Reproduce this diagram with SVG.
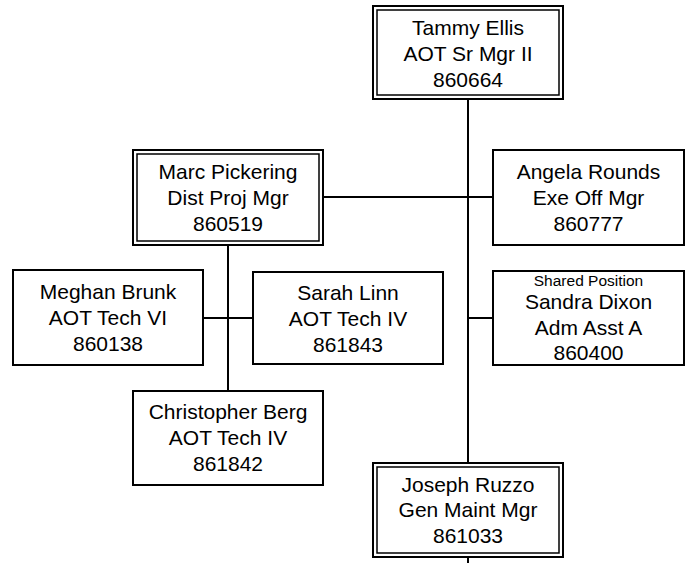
<svg xmlns="http://www.w3.org/2000/svg" width="687" height="563" viewBox="0 0 687 563">
<style>
.box{fill:#fff;stroke:#000;stroke-width:2}
.inner{fill:none;stroke:#000;stroke-width:1.5}
.t{font-family:"Liberation Sans",Arial,sans-serif;font-size:21px;fill:#000;text-anchor:middle}
.s{font-family:"Liberation Sans",Arial,sans-serif;font-size:15.5px;fill:#000;text-anchor:middle}
.c{stroke:#000;stroke-width:2;fill:none}
</style>
<rect width="687" height="563" fill="#fff"/>
<g id="connectors">
<line class="c" x1="468" y1="100" x2="468" y2="462"/>
<line class="c" x1="468" y1="558" x2="468" y2="563"/>
<line class="c" x1="324" y1="197" x2="492" y2="197"/>
<line class="c" x1="468" y1="318" x2="492" y2="318"/>
<line class="c" x1="228" y1="246" x2="228" y2="390"/>
<line class="c" x1="204" y1="318" x2="252" y2="318"/>
</g>
<g id="tammy">
<rect class="box" x="373" y="6" width="190" height="93"/>
<rect class="inner" x="377" y="10" width="182" height="85"/>
<text class="t" x="468" y="35">Tammy Ellis</text>
<text class="t" x="468" y="61">AOT Sr Mgr II</text>
<text class="t" x="468" y="87">860664</text>
</g>
<g id="marc">
<rect class="box" x="133" y="150" width="190" height="95"/>
<rect class="inner" x="137" y="154" width="182" height="87"/>
<text class="t" x="228" y="178.5">Marc Pickering</text>
<text class="t" x="228" y="204.5">Dist Proj Mgr</text>
<text class="t" x="228" y="230.5">860519</text>
</g>
<g id="angela">
<rect class="box" x="493" y="150" width="191" height="95"/>
<text class="t" x="588.5" y="178.5">Angela Rounds</text>
<text class="t" x="588.5" y="204.5">Exe Off Mgr</text>
<text class="t" x="588.5" y="230.5">860777</text>
</g>
<g id="meghan">
<rect class="box" x="13" y="270" width="190" height="95"/>
<text class="t" x="108" y="298.5">Meghan Brunk</text>
<text class="t" x="108" y="324.5">AOT Tech VI</text>
<text class="t" x="108" y="350.5">860138</text>
</g>
<g id="sarah">
<rect class="box" x="253" y="272" width="190" height="92"/>
<text class="t" x="348" y="300">Sarah Linn</text>
<text class="t" x="348" y="326">AOT Tech IV</text>
<text class="t" x="348" y="352">861843</text>
</g>
<g id="sandra">
<rect class="box" x="493" y="271" width="191" height="94"/>
<text class="s" x="588.5" y="285.5">Shared Position</text>
<text class="t" x="588.5" y="309">Sandra Dixon</text>
<text class="t" x="588.5" y="334.5">Adm Asst A</text>
<text class="t" x="588.5" y="360">860400</text>
</g>
<g id="christopher">
<rect class="box" x="133" y="391" width="190" height="94"/>
<text class="t" x="228" y="419">Christopher Berg</text>
<text class="t" x="228" y="445">AOT Tech IV</text>
<text class="t" x="228" y="471">861842</text>
</g>
<g id="joseph">
<rect class="box" x="373" y="463" width="190" height="94"/>
<rect class="inner" x="377" y="467" width="182" height="86"/>
<text class="t" x="468" y="491.5">Joseph Ruzzo</text>
<text class="t" x="468" y="517">Gen Maint Mgr</text>
<text class="t" x="468" y="542.5">861033</text>
</g>
</svg>
